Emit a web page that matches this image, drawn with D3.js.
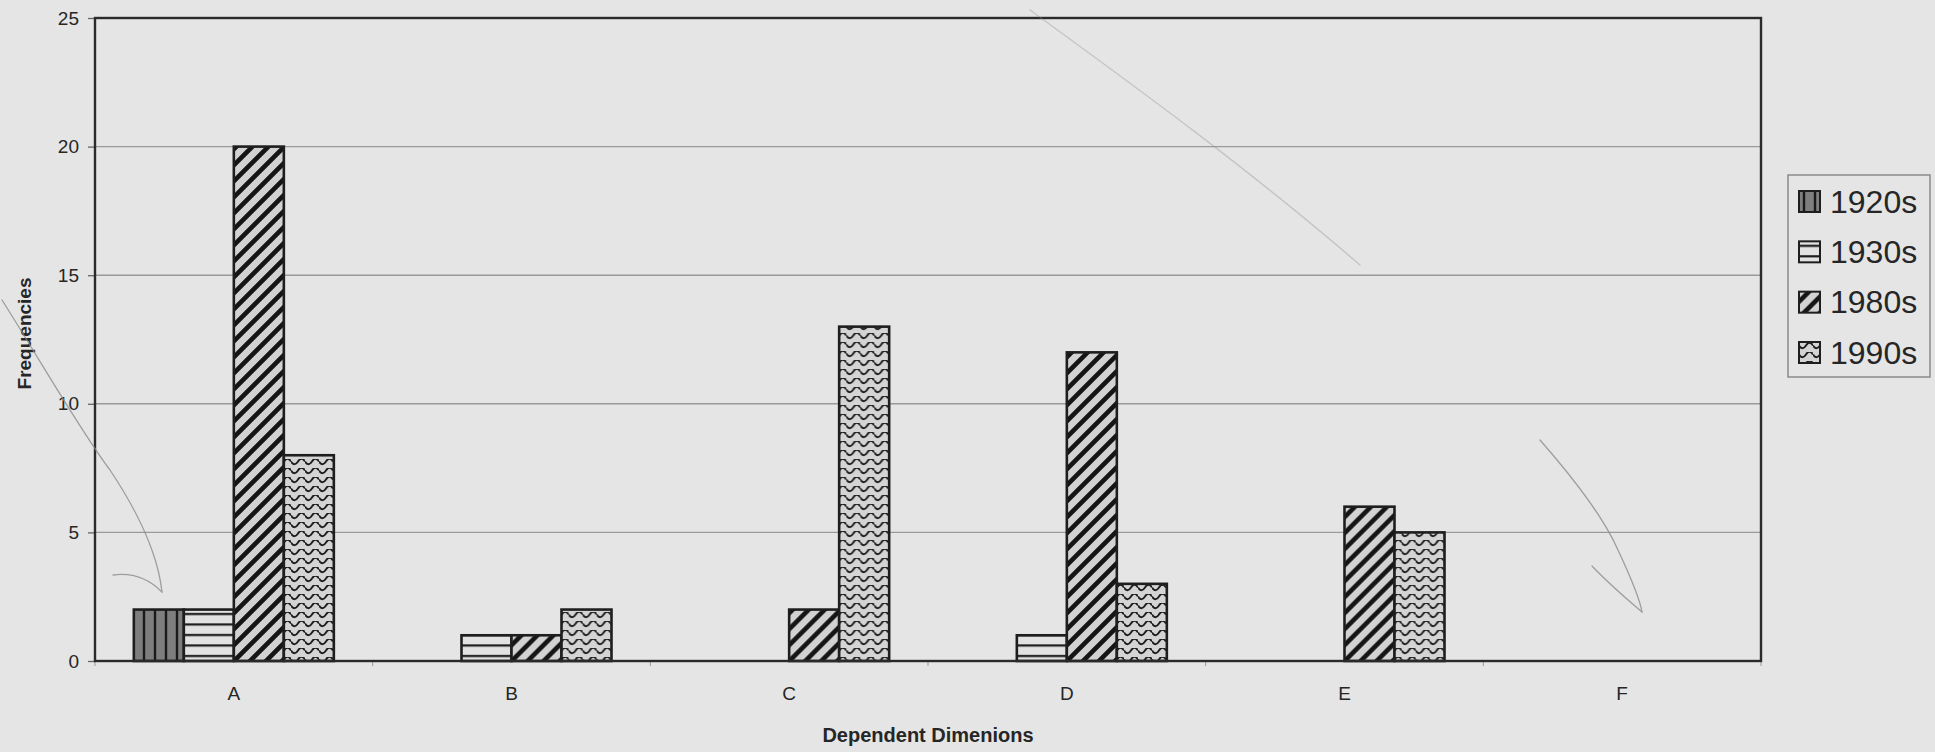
<!DOCTYPE html>
<html>
<head>
<meta charset="utf-8">
<script src="https://cdn.jsdelivr.net/npm/d3@7"></script>
<style>
  html, body { margin: 0; padding: 0; background: #e5e5e5; }
  svg { display: block; }
  text { font-family: "Liberation Sans", Arial, sans-serif; fill: #262626; }
</style>
</head>
<body>
<svg id="chart" width="1935" height="752"></svg>
<script>
// Category labels along the x axis
const categories = ["A", "B", "C", "D", "E", "F"];
// Decade series shown side by side in each category
const seriesNames = ["1920s", "1930s", "1980s", "1990s"];
// Frequencies per series, one value per category
const values1920s = [2, 0, 0, 0, 0, 0];
const values1930s = [2, 1, 0, 1, 0, 0];
const values1980s = [20, 1, 2, 12, 6, 0];
const values1990s = [8, 2, 13, 3, 5, 0];
// Y axis ticks
const yTicks = [0, 5, 10, 15, 20, 25];

const seriesValues = { "1920s": values1920s, "1930s": values1930s, "1980s": values1980s, "1990s": values1990s };
const patternId = { "1920s": "pat-vert", "1930s": "pat-horiz", "1980s": "pat-diag", "1990s": "pat-wave" };

const svg = d3.select("#chart");
const plot = { left: 95, right: 1761, top: 18, bottom: 661 };

// ---- fill patterns ----
const defs = svg.append("defs");

const pv = defs.append("pattern").attr("id", "pat-vert")
  .attr("patternUnits", "userSpaceOnUse").attr("width", 11).attr("height", 11);
pv.append("rect").attr("width", 11).attr("height", 11).attr("fill", "#7e7e7e");
pv.append("line").attr("x1", 5).attr("x2", 5).attr("y1", 0).attr("y2", 11)
  .attr("stroke", "#1a1a1a").attr("stroke-width", 2.4);

const ph = defs.append("pattern").attr("id", "pat-horiz")
  .attr("patternUnits", "userSpaceOnUse").attr("width", 10).attr("height", 10.5);
ph.append("rect").attr("width", 10).attr("height", 10.5).attr("fill", "#e2e2e2");
ph.append("line").attr("x1", 0).attr("x2", 10).attr("y1", 5).attr("y2", 5)
  .attr("stroke", "#1a1a1a").attr("stroke-width", 2.2);

const pd = defs.append("pattern").attr("id", "pat-diag")
  .attr("patternUnits", "userSpaceOnUse").attr("width", 16).attr("height", 16);
pd.append("rect").attr("width", 16).attr("height", 16).attr("fill", "#d2d2d2");
pd.append("path").attr("d", "M-4,4 L4,-4 M0,16 L16,0 M12,20 L20,12")
  .attr("stroke", "#151515").attr("stroke-width", 4.6);

const pw = defs.append("pattern").attr("id", "pat-wave")
  .attr("patternUnits", "userSpaceOnUse").attr("width", 14).attr("height", 9);
pw.append("rect").attr("width", 14).attr("height", 9).attr("fill", "#d4d4d4");
pw.append("path").attr("d", "M0,2.5 Q3.5,8 7,2.5 Q10.5,-3 14,2.5")
  .attr("fill", "none").attr("stroke", "#1e1e1e").attr("stroke-width", 1.9);

// ---- scales ----
const x0 = d3.scaleBand().domain(categories).range([plot.left, plot.right]).padding(0);
const barW = 50;
const outer = (x0.bandwidth() / barW - seriesNames.length) / 2;
const x1 = d3.scaleBand().domain(seriesNames).range([0, x0.bandwidth()])
  .paddingInner(0).paddingOuter(outer);
const y = d3.scaleLinear().domain([0, 25]).range([plot.bottom, plot.top]);

// ---- gridlines ----
svg.append("g").selectAll("line").data(yTicks.filter(t => t > 0 && t < 25)).join("line")
  .attr("x1", plot.left).attr("x2", plot.right)
  .attr("y1", d => y(d)).attr("y2", d => y(d))
  .attr("stroke", "#9a9a9a").attr("stroke-width", 1.4);

// ---- y axis ----
const yAxis = d3.axisLeft(y).tickValues(yTicks).tickSize(7).tickPadding(9).tickFormat(d3.format("d"));
const gy = svg.append("g").attr("transform", `translate(${plot.left},0)`).call(yAxis);
gy.select(".domain").remove();
gy.selectAll(".tick line").attr("stroke", "#666").attr("stroke-width", 1.3);
gy.selectAll(".tick text").style("font-size", "19px").attr("fill", "#222")
  .style("font-family", "'Liberation Sans', Arial, sans-serif");

// ---- x axis (ticks at category boundaries) ----
const xBoundaries = d3.range(categories.length + 1).map(i => plot.left + i * x0.step());
svg.append("g").selectAll("line").data(xBoundaries).join("line")
  .attr("x1", d => d).attr("x2", d => d)
  .attr("y1", plot.bottom).attr("y2", plot.bottom + 5)
  .attr("stroke", "#999").attr("stroke-width", 1);
const xAxis = d3.axisBottom(x0).tickSize(0).tickPadding(26);
const gx = svg.append("g").attr("transform", `translate(0,${plot.bottom})`).call(xAxis);
gx.select(".domain").remove();
gx.selectAll(".tick text").style("font-size", "19px").attr("fill", "#222")
  .style("font-family", "'Liberation Sans', Arial, sans-serif");

// ---- bars ----
const groups = svg.append("g").selectAll("g").data(categories).join("g")
  .attr("transform", d => `translate(${x0(d)},0)`);
groups.selectAll("rect")
  .data((c, i) => seriesNames.map(s => ({ s, v: seriesValues[s][i] })).filter(d => d.v > 0))
  .join("rect")
  .attr("x", d => x1(d.s))
  .attr("y", d => y(d.v))
  .attr("width", x1.bandwidth())
  .attr("height", d => y(0) - y(d.v))
  .attr("fill", d => `url(#${patternId[d.s]})`)
  .attr("stroke", "#1e1e1e").attr("stroke-width", 2.6);

// ---- plot frame ----
svg.append("rect")
  .attr("x", plot.left).attr("y", plot.top)
  .attr("width", plot.right - plot.left).attr("height", plot.bottom - plot.top)
  .attr("fill", "none").attr("stroke", "#2a2a2a").attr("stroke-width", 2.4);

// ---- axis titles ----
svg.append("text")
  .attr("x", (plot.left + plot.right) / 2).attr("y", 742)
  .attr("text-anchor", "middle")
  .style("font-size", "20px").style("font-weight", "bold")
  .text("Dependent Dimenions");
svg.append("text")
  .attr("transform", `translate(31,${(plot.top + plot.bottom) / 2 - 6}) rotate(-90)`)
  .attr("text-anchor", "middle")
  .style("font-size", "19px").style("font-weight", "bold")
  .text("Frequencies");

// ---- legend ----
const legend = svg.append("g");
legend.append("rect")
  .attr("x", 1788).attr("y", 175).attr("width", 142).attr("height", 202)
  .attr("fill", "none").attr("stroke", "#8a8a8a").attr("stroke-width", 1.5);
const rowY = d3.scalePoint().domain(seriesNames).range([201, 352]);
const items = legend.selectAll("g.item").data(seriesNames).join("g")
  .attr("class", "item")
  .attr("transform", d => `translate(1799,${rowY(d)})`);
items.append("rect")
  .attr("x", 0).attr("y", -10).attr("width", 21).attr("height", 21)
  .attr("fill", d => `url(#${patternId[d]})`)
  .attr("stroke", "#1e1e1e").attr("stroke-width", 2);
items.append("text")
  .attr("x", 31).attr("y", 0).attr("dy", "0.36em")
  .style("font-size", "32px").attr("fill", "#1e1e1e")
  .text(d => d);

// ---- pencil arrows drawn on the page ----
const pencil = svg.append("g").attr("fill", "none").attr("stroke", "#8c8c8c")
  .attr("stroke-width", 1.3).attr("stroke-linecap", "round").attr("opacity", 0.8);
pencil.append("path").attr("d", "M2,300 C40,360 80,430 110,470 C140,515 158,555 162,592");
pencil.append("path").attr("d", "M113,575 C135,572 150,580 162,592");
pencil.append("path").attr("d", "M1540,440 C1575,480 1605,520 1618,550 C1632,580 1640,600 1642,612");
pencil.append("path").attr("d", "M1592,566 C1610,585 1628,600 1642,612");
pencil.append("path").attr("d", "M1030,10 C1140,90 1250,170 1360,265").attr("opacity", 0.45);
</script>
</body>
</html>
